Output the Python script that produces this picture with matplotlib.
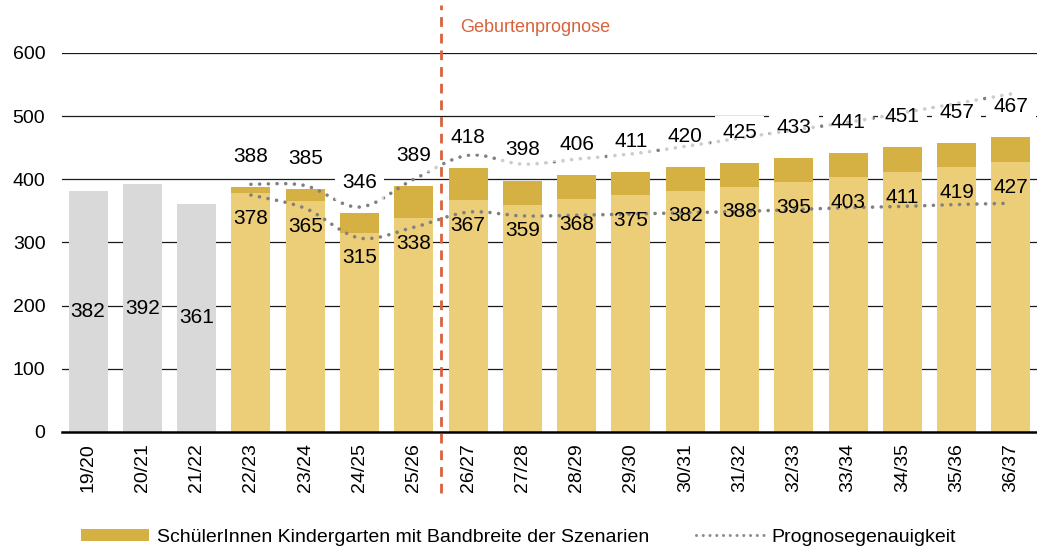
import numpy as np
import matplotlib
matplotlib.use("Agg")
import matplotlib.pyplot as plt
from matplotlib.path import Path
from matplotlib.patches import PathPatch, Patch
from matplotlib.lines import Line2D

plt.rcParams['font.family'] = ['Liberation Sans', 'DejaVu Sans']

# school years
categories = ['19/20', '20/21', '21/22', '22/23', '23/24', '24/25', '25/26', '26/27',
              '27/28', '28/29', '29/30', '30/31', '31/32', '32/33', '33/34', '34/35',
              '35/36', '36/37']
# actual pupils (grey)
hist = [382, 392, 361]
# projection: lower scenario and upper scenario
low = [378, 365, 315, 338, 367, 359, 368, 375, 382, 388, 395, 403, 411, 419, 427]
high = [388, 385, 346, 389, 418, 398, 406, 411, 420, 425, 433, 441, 451, 457, 467]
# forecast accuracy band (dotted lines)
acc_upper = [392, 390, 356, 400, 438, 424, 432, 440, 452, 465, 478, 490, 505, 520, 535]
acc_lower = [375, 354, 307, 324, 348, 342, 343, 345, 347, 349, 352, 355, 357, 360, 362]

grey = '#d9d9d9'
light_gold = '#ecce78'
gold = '#d4b142'
orange = '#d9623b'
dot_col = '#808080'


def smooth_path(xs, ys):
    # catmull-rom through the points, as cubic bezier segments
    xs = np.asarray(xs, float)
    ys = np.asarray(ys, float)
    pts = np.column_stack([xs, ys])
    verts = [pts[0]]
    codes = [Path.MOVETO]
    n = len(pts)
    for i in range(n - 1):
        p0 = pts[i - 1] if i > 0 else pts[i]
        p1 = pts[i]
        p2 = pts[i + 1]
        p3 = pts[i + 2] if i + 2 < n else pts[i + 1]
        c1 = p1 + (p2 - p0) / 6.0
        c2 = p2 - (p3 - p1) / 6.0
        verts += [c1, c2, p2]
        codes += [Path.CURVE4] * 3
    return Path(verts, codes)


fig = plt.figure(figsize=(10.37, 5.51), dpi=100)
ax = fig.add_axes([0.0598, 0.216, 0.9402, 0.688])

x = np.arange(len(categories))
nh = len(hist)
xp = x[nh:]
w = 0.72

ax.bar(x[:nh], hist, width=w, color=grey, zorder=2)
ax.bar(xp, low, width=w, color=light_gold, zorder=2)
ax.bar(xp, np.array(high) - np.array(low), bottom=low, width=w, color=gold, zorder=2)

for yv in range(100, 700, 100):
    ax.axhline(yv, color='#1a1a1a', lw=0.9, zorder=0.5)

for xs, ys in [(xp, acc_upper), (xp, acc_lower)]:
    pp = PathPatch(smooth_path(xs, ys), facecolor='none', edgecolor=dot_col, lw=2.6,
                   linestyle=(0, (0.01, 2.4)), capstyle='round', zorder=3)
    ax.add_patch(pp)

# labels
for xi, v in zip(x[:nh], hist):
    ax.text(xi, v / 2, str(v), ha='center', va='center', fontsize=15, zorder=5)
for xi, v in zip(xp, low):
    ax.annotate(str(v), (xi, v), xytext=(0, -18), textcoords='offset points',
                ha='center', va='center', fontsize=15, zorder=5)
for xi, v in zip(xp, high):
    # opaque box under bars hides the gridline, translucent one dims the dots
    ax.annotate(str(v), (xi, v), xytext=(0, 22), textcoords='offset points',
                ha='center', va='center', fontsize=15, color='none', zorder=1,
                bbox=dict(boxstyle='square,pad=0.35', fc='white', ec='none'))
    ax.annotate(str(v), (xi, v), xytext=(0, 22), textcoords='offset points',
                ha='center', va='center', fontsize=15, zorder=5,
                bbox=dict(boxstyle='square,pad=0.35', fc='white', ec='none', alpha=0.6))

# forecast marker
ax.plot([6.5, 6.5], [-97, 676], color=orange, lw=2, ls=(0, (3.5, 2.5)),
        clip_on=False, zorder=6)
ax.text(6.85, 640, 'Geburtenprognose', color=orange, fontsize=13, va='center',
        ha='left', clip_on=False)

ax.set_xlim(-0.48, 17.48)
ax.set_ylim(0, 600)
ax.set_yticks(range(0, 700, 100))
ax.set_xticks(x)
ax.set_xticklabels(categories, rotation=90, fontsize=14)
ax.tick_params(axis='y', length=0, pad=12, labelsize=14)
ax.tick_params(axis='x', length=0, pad=8)
for s in ['left', 'right', 'top']:
    ax.spines[s].set_visible(False)
ax.spines['bottom'].set_linewidth(1.8)
ax.spines['bottom'].set_zorder(4)

handles = [Patch(facecolor=gold, edgecolor='none'),
           Line2D([0], [0], color='#8c8c8c', lw=2.2, ls=(0, (0.01, 2.2)),
                  dash_capstyle='round')]
labels = ['SchülerInnen Kindergarten mit Bandbreite der Szenarien', 'Prognosegenauigkeit']
fig.legend(handles, labels, loc='center', bbox_to_anchor=(0.5, 0.025), ncol=2,
           frameon=False, fontsize=14, handlelength=3.5, handleheight=0.6,
           handletextpad=0.4, columnspacing=2.4)

fig.savefig('out.png', dpi=100)
